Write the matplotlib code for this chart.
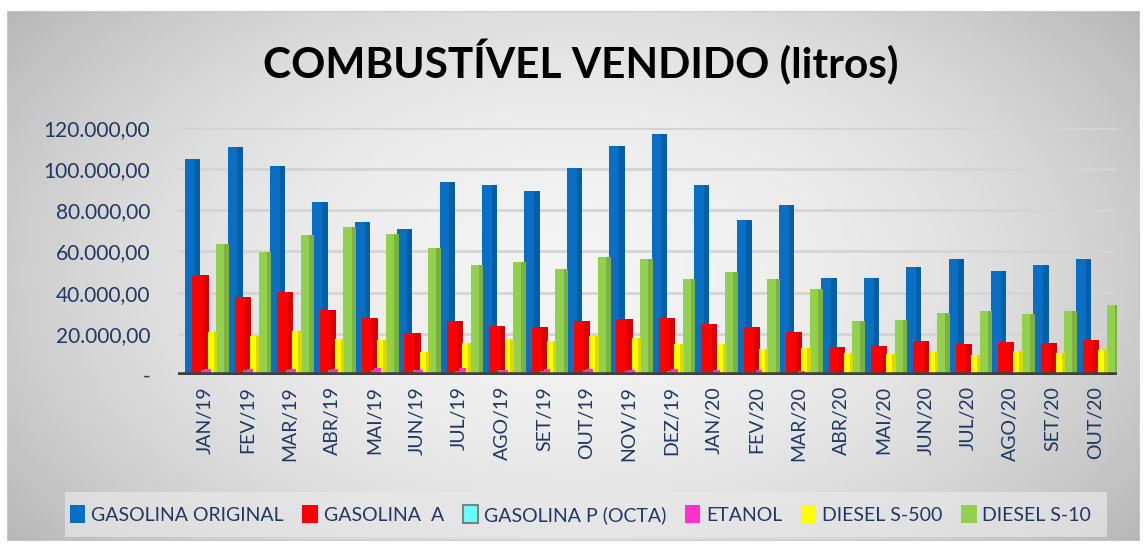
import numpy as np
import matplotlib
matplotlib.use('Agg')
import matplotlib.pyplot as plt
from matplotlib.patches import Patch, Rectangle

months = ['JAN/19', 'FEV/19', 'MAR/19', 'ABR/19', 'MAI/19', 'JUN/19', 'JUL/19',
          'AGO/19', 'SET/19', 'OUT/19', 'NOV/19', 'DEZ/19', 'JAN/20', 'FEV/20',
          'MAR/20', 'ABR/20', 'MAI/20', 'JUN/20', 'JUL/20', 'AGO/20', 'SET/20', 'OUT/20']

gas_original = [105000, 111000, 101500, 84000, 74300, 71000, 93800, 92300, 89400, 100600,
                111300, 117100, 92300, 75300, 82600, 47100, 47100, 52500, 56400, 50500,
                53500, 56400]
gas_a = [48600, 37900, 40300, 31600, 27700, 20400, 26200, 23800, 23300, 26200, 27200,
         27700, 24800, 23300, 20900, 13600, 14100, 16500, 15100, 16000, 15500, 17000]
gas_p = [2500, 2500, 2500, 2500, 2500, 2500, 2000, 2500, 2000, 2500, 2000, 2000,
         1500, 1500, 1000, 0, 0, 0, 0, 0, 0, 0]
etanol = [3000, 2800, 3000, 3000, 3200, 2600, 3400, 2500, 3000, 2800, 2600, 2800,
          2400, 2200, 1800, 1200, 1000, 800, 700, 800, 600, 700]
diesel_500 = [20900, 19000, 21400, 17500, 17000, 11200, 15500, 17500, 16500, 19000,
              18000, 15100, 15100, 12600, 13100, 10700, 10200, 11200, 9700, 11700,
              10700, 12100]
diesel_10 = [63700, 59800, 68000, 71900, 68500, 61700, 53500, 54900, 51500, 57300,
             56400, 46600, 50000, 46600, 41800, 26200, 26700, 30100, 31100, 29600,
             31100, 34000]

navy = '#1F3864'
c_blue, c_red, c_cyan, c_pink, c_yel, c_grn = '#0A6FC2', '#FF0000', '#66FFFF', '#FF33CC', '#FFFF00', '#92D050'

W, H = 1143, 544
fig = plt.figure(figsize=(W / 100, H / 100), dpi=100)
fig.patch.set_facecolor('white')

# chart area with soft radial gradient (light centre, grey edges)
x0, y0, x1, y1 = 7, 11, 1140, 541
bg = fig.add_axes([x0 / W, 1 - y1 / H, (x1 - x0) / W, (y1 - y0) / H], zorder=-10)
gx, gy = np.meshgrid(np.linspace(-1, 1, 300), np.linspace(-1, 1, 150))
r = np.clip(np.sqrt((gx / 1.0) ** 2 * 0.9 + (gy / 1.0) ** 2 * 0.5), 0, 1.2)
shade = 0.955 - 0.17 * r ** 2
bg.imshow(np.dstack([shade] * 3), aspect='auto', extent=[0, 1, 0, 1], origin='upper')
bg.add_patch(Rectangle((0, 0), 1, 1, fill=False, edgecolor='#c8c8c8', lw=1.2))
bg.add_patch(Rectangle((58 / (x1 - x0), (y1 - 537) / (y1 - y0)), 1042 / (x1 - x0),
                       45 / (y1 - y0), facecolor='#e8e8e8', edgecolor='none', alpha=0.7))
bg.set_xlim(0, 1); bg.set_ylim(0, 1)
bg.axis('off')

ax = fig.add_axes([0.1557, 0.3107, 0.8215, 0.454])
ax.patch.set_alpha(0)
x = np.arange(len(months))

def bar3d(xs, vals, w, color, z):
    ax.bar(xs, vals, width=w, color=color, zorder=z)
    # darker side strip for a 3D feel
    ax.bar(xs + w * 0.32, vals, width=w * 0.36, color='black', alpha=0.15, zorder=z + 0.1)

bar3d(x - 0.29, gas_original, 0.36, c_blue, 3)
bar3d(x - 0.11, gas_a, 0.38, c_red, 4)
ax.bar(x + 0.0, gas_p, width=0.2, color='#808080', zorder=5)
ax.bar(x + 0.06, etanol, width=0.16, color=c_pink, zorder=6)
bar3d(x + 0.41, diesel_10, 0.30, c_grn, 3)
bar3d(x + 0.17, diesel_500, 0.22, c_yel, 5)

ax.set_ylim(0, 120000)
ax.set_xlim(-0.64, 21.5)
ax.set_yticks(np.arange(0, 120001, 20000))
ax.set_yticklabels(['-'] + ['{:,.2f}'.format(v).replace(',', 'X').replace('.', ',').replace('X', '.')
                            for v in range(20000, 120001, 20000)])
ax.yaxis.grid(True, color='#d4d4d4', lw=2, zorder=0)
ax.set_axisbelow(True)
ax.axhline(0, color='#404040', lw=4, zorder=10)
ax.set_xticks(x)
ax.set_xticklabels(months, rotation=90)
for s in ax.spines.values():
    s.set_visible(False)
ax.tick_params(length=0, colors=navy, labelsize=14, pad=8)
ax.tick_params(axis='y', labelsize=15, pad=20)
for lab in ax.get_xticklabels() + ax.get_yticklabels():
    lab.set_fontfamily('Lato')

fig.text(0.508, 0.885, 'COMBUSTÍVEL VENDIDO (litros)', ha='center', va='center',
         fontsize=30.5, fontweight='bold', family='Lato', color='black')

handles = [Patch(facecolor=c_blue, edgecolor='none'),
           Patch(facecolor=c_red, edgecolor='none'),
           Patch(facecolor=c_cyan, edgecolor='#808080', lw=1.5),
           Patch(facecolor=c_pink, edgecolor='none'),
           Patch(facecolor=c_yel, edgecolor='none'),
           Patch(facecolor=c_grn, edgecolor='none')]
labels = ['GASOLINA ORIGINAL', 'GASOLINA  A', 'GASOLINA P (OCTA)', 'ETANOL',
          'DIESEL S-500', 'DIESEL S-10']
leg = fig.legend(handles, labels, loc='center', bbox_to_anchor=(0.508, 0.054), ncol=6,
                 frameon=False, handlelength=0.8, handleheight=1.0, handletextpad=0.3,
                 columnspacing=0.95, prop={'family': 'Lato', 'size': 14})
for t in leg.get_texts():
    t.set_color(navy)

fig.savefig('out.png', dpi=100)
